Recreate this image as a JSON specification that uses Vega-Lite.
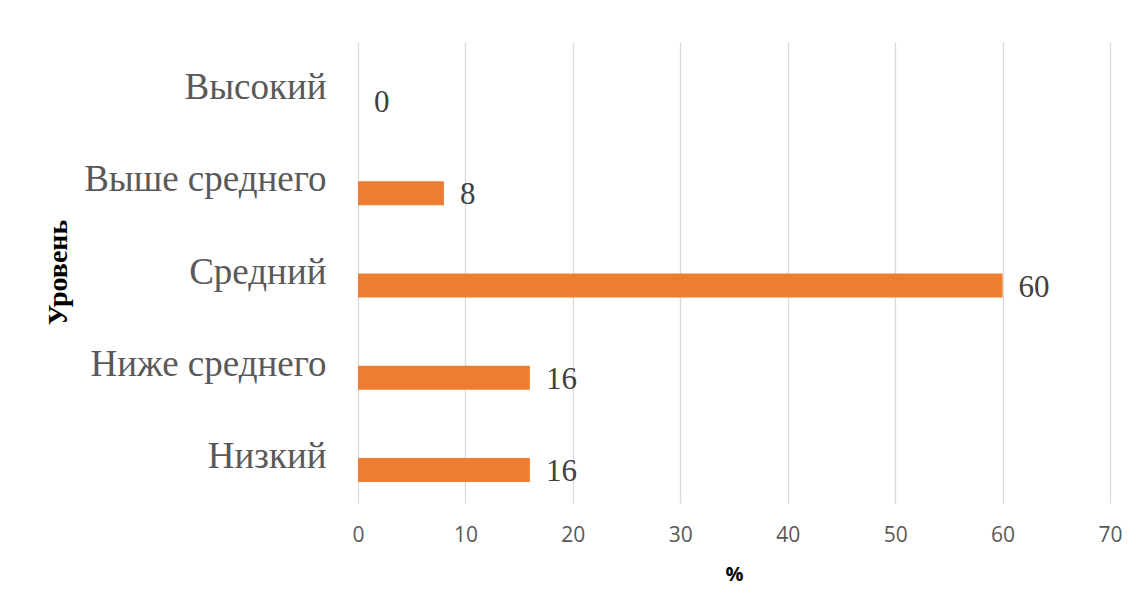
{
  "$schema": "https://vega.github.io/schema/vega-lite/v6.json",
  "autosize": "none",
  "padding": {"left": 358, "top": 42, "right": 28, "bottom": 111},
  "width": 752,
  "height": 461,
  "background": "white",
  "config": {"view": {"stroke": null}},
  "data": {
    "values": [
      {"level": "Высокий", "pct": 0},
      {"level": "Выше среднего", "pct": 8},
      {"level": "Средний", "pct": 60},
      {"level": "Ниже среднего", "pct": 16},
      {"level": "Низкий", "pct": 16}
    ]
  },
  "encoding": {
    "y": {
      "field": "level",
      "type": "nominal",
      "sort": null,
      "scale": {"paddingInner": 0, "paddingOuter": 0},
      "axis": {
        "title": "Уровень",
        "titleFont": "Liberation Serif",
        "titleFontSize": 28,
        "titleFontWeight": "bold",
        "titleColor": "#000000",
        "titleX": -286,
        "titleY": 230,
        "titleAngle": -90,
        "titleBaseline": "bottom",
        "labelFont": "Liberation Serif",
        "labelFontSize": 37,
        "labelColor": "#595959",
        "labelPadding": 32,
        "labelLimit": 400,
        "ticks": false,
        "domain": false,
        "grid": false
      }
    },
    "x": {
      "field": "pct",
      "type": "quantitative",
      "scale": {"domain": [0, 70], "nice": false},
      "axis": {
        "title": "%",
        "titleFont": "Open Sans",
        "titleFontSize": 20,
        "titleFontWeight": "bold",
        "titleColor": "#000000",
        "titlePadding": 19,
        "values": [0, 10, 20, 30, 40, 50, 60, 70],
        "labelFont": "Open Sans",
        "labelFontSize": 21,
        "labelColor": "#595959",
        "labelPadding": 21,
        "labelFlush": false,
        "ticks": false,
        "domain": false,
        "grid": true,
        "gridColor": "#d9d9d9",
        "gridWidth": 1.3
      }
    }
  },
  "layer": [
    {
      "mark": {"type": "bar", "height": 24, "yOffset": 13, "color": "#ED7D31"}
    },
    {
      "mark": {
        "type": "text",
        "align": "left",
        "baseline": "middle",
        "dx": 16,
        "yOffset": 15,
        "font": "Liberation Serif",
        "fontSize": 31,
        "color": "#404040"
      },
      "encoding": {"text": {"field": "pct", "type": "quantitative"}}
    }
  ]
}
